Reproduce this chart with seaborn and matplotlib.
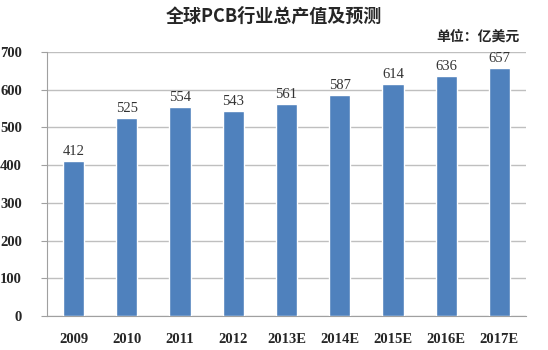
import matplotlib
matplotlib.use("Agg")
import matplotlib.pyplot as plt
import seaborn as sns
import pandas as pd

years = ["2009", "2010", "2011", "2012", "2013E", "2014E", "2015E", "2016E", "2017E"]
values = [412, 525, 554, 543, 561, 587, 614, 636, 657]
yticks = [0, 100, 200, 300, 400, 500, 600, 700]

sns.set_style("white")
plt.rcParams['font.family'] = ['Noto Sans CJK SC', 'DejaVu Sans']

df = pd.DataFrame({"year": years, "value": values})
fig = plt.figure(figsize=(5.48, 3.5), dpi=100)
ax = fig.add_axes([47/548, 1-316/350, (526-47)/548, (316-52)/350])
sns.barplot(data=df, x="year", y="value", color="#4F81BD", saturation=1, width=0.4, ax=ax, zorder=3)

ax.set_ylim(0, 700)
ax.set_yticks(yticks)
ax.set_xlim(-0.5, len(years) - 0.5)
ax.yaxis.grid(True, color="#BFBFBF", linewidth=1, zorder=0)
ax.set_axisbelow(True)
ax.set_xlabel("")
ax.set_ylabel("")
for s in ["top", "right"]:
    ax.spines[s].set_visible(False)
ax.spines["left"].set_color("#A0A0A0")
ax.spines["bottom"].set_color("#A0A0A0")
ax.tick_params(axis="y", length=4, color="#A0A0A0", direction="out", left=True, pad=14)
ax.tick_params(axis="x", length=0, pad=12)
for lab in ax.get_xticklabels() + ax.get_yticklabels():
    lab.set_fontfamily("Liberation Serif")
    lab.set_fontweight("bold")
    lab.set_fontsize(10.5)

for i, v in enumerate(values):
    ax.text(i, v + 8, str(v), ha="center", va="bottom", fontsize=10.5,
            fontfamily="Liberation Serif", color="#333333")

fig.text(0.5, 1 - 16/350, "全球PCB行业总产值及预测", ha="center", va="center",
         fontsize=13, fontweight="bold", family=['Noto Sans CJK SC', 'DejaVu Sans'])
fig.text(520/548, 1 - 37/350, "单位：亿美元", ha="right", va="center",
         fontsize=10, fontweight="bold", family=['Noto Sans CJK SC', 'DejaVu Sans'])

fig.savefig("out.png", dpi=100)
